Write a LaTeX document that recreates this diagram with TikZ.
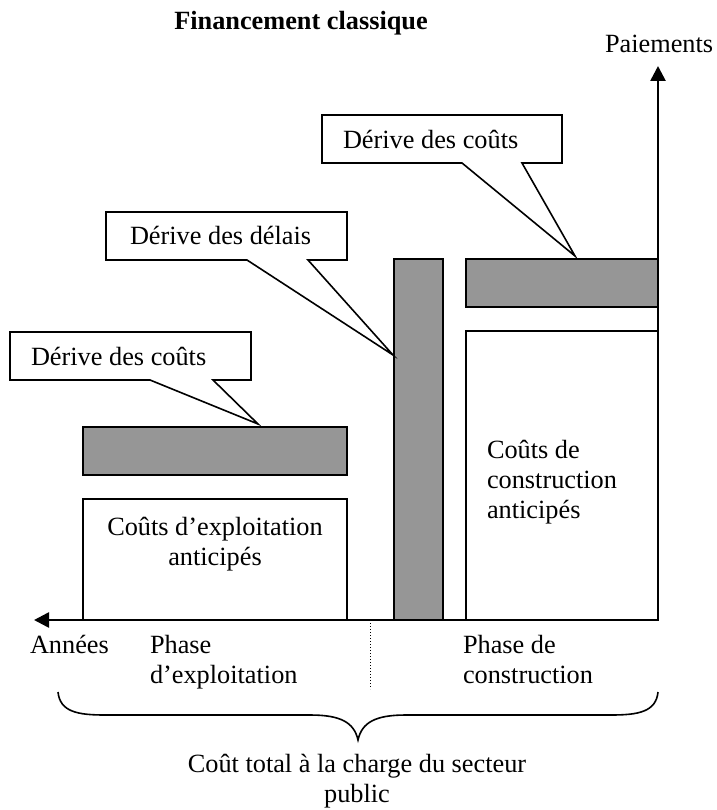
\documentclass[tikz,border=0pt]{standalone}
\usepackage{fontspec}
\setmainfont{Liberation Serif}
\usetikzlibrary{arrows.meta}
\definecolor{barfill}{RGB}{150,150,150}
\begin{document}
\begin{tikzpicture}[x=1pt,y=-1pt,
  every node/.style={font=\fontsize{26.3}{30}\selectfont, inner sep=0pt, outer sep=0pt},
  bar/.style={draw, fill=barfill, line width=1.6pt, anchor=north west},
  costbox/.style={draw, fill=white, line width=1.6pt, anchor=north west},
  calloutbox/.style={anchor=north west, minimum width=#1, minimum height=48pt},
  calloutline/.style={draw, fill=white, line width=1.6pt, line join=miter},
  axis/.style={line width=2.6pt, -{Triangle[length=15pt,width=15pt]}},
  label/.style={align=left, anchor=base west}]
\useasboundingbox (0,0) rectangle (716,810);

% anticipated cost blocks
\node[costbox, minimum width=192pt, minimum height=289pt] (constr) at (466,331) {};
\node[costbox, minimum width=264pt, minimum height=121pt] (exploit) at (83,499) {};

% cost and delay overruns
\node[bar, minimum width=192pt, minimum height=48pt] (constrbar) at (466,259) {};
\node[bar, minimum width=49pt, minimum height=361pt] (delaybar) at (394,259) {};
\node[bar, minimum width=264pt, minimum height=48pt] (exploitbar) at (83,427) {};

% axes
\coordinate (origin) at (658,620);
\coordinate (ytip) at (658,66);
\coordinate (xtip) at (34,620);
\draw[axis] (origin) -- (ytip);
\draw[axis] (origin) -- (xtip);

% axis labels and phases
\node[anchor=base west] (pay) at (605,53) {Paiements};
\node[anchor=base west] (years) at (30,653) {Années};
\node[label] (phaseexp) at (150,683) {Phase\\d’exploitation};
\node[label] (phasecon) at (463,683) {Phase de\\construction};
\coordinate (sepTop) at (370,623);
\coordinate (sepBot) at (370,689);
\draw[line width=1pt, dotted] (sepTop) -- (sepBot);

% block texts
\node[align=center, anchor=base] (exptext) at (215,565) {Coûts d’exploitation\\anticipés};
\node[label] (context) at (487,518) {Coûts de\\construction\\anticipés};

% callouts
\node[calloutbox=241pt] (callA) at (10,332) {};
\coordinate (tipA) at (258,424);
\path[calloutline] (callA.north west) -- (callA.north east) -- (callA.south east)
  -- ([xshift=203pt]callA.south west) -- (tipA) -- ([xshift=140pt]callA.south west)
  -- (callA.south west) -- cycle;
\node[anchor=base west] (callAtext) at (31,365) {Dérive des coûts};

\node[calloutbox=241pt] (callB) at (106,212) {};
\coordinate (tipB) at (393,355);
\path[calloutline] (callB.north west) -- (callB.north east) -- (callB.south east)
  -- ([xshift=202pt]callB.south west) -- (tipB) -- ([xshift=141pt]callB.south west)
  -- (callB.south west) -- cycle;
\node[anchor=base west] (callBtext) at (130,244) {Dérive des délais};

\node[calloutbox=240pt] (callC) at (322,115) {};
\coordinate (tipC) at (575,256);
\path[calloutline] (callC.north west) -- (callC.north east) -- (callC.south east)
  -- ([xshift=200pt]callC.south west) -- (tipC) -- ([xshift=140pt]callC.south west)
  -- (callC.south west) -- cycle;
\node[anchor=base west] (callCtext) at (343,149) {Dérive des coûts};

% title
\node[anchor=base, font=\fontsize{26.3}{30}\selectfont\bfseries] (title) at (301,30) {Financement classique};

% total-cost brace
\coordinate (braceL) at (58,692);
\coordinate (braceR) at (658,692);
\coordinate (braceTip) at (358,740);
\draw[line width=1.6pt] (braceL) .. controls (60,712) and (78,715) .. (105,715)
  -- (310,715) .. controls (340,715) and (354,722) .. (braceTip)
  .. controls (362,722) and (376,715) .. (406,715)
  -- (611,715) .. controls (638,715) and (656,712) .. (braceR);
\node[align=center, anchor=base] (total) at (357,802) {Coût total à la charge du secteur\\public};
\end{tikzpicture}
\end{document}
